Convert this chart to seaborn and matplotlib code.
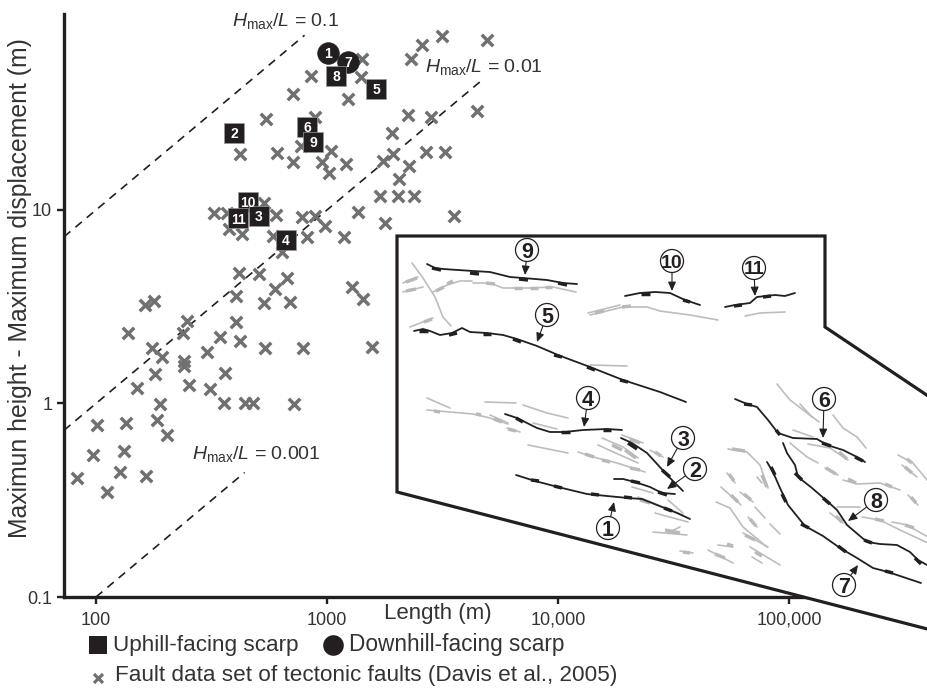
import matplotlib
matplotlib.use("Agg")
import matplotlib.pyplot as plt
import seaborn as sns
import pandas as pd
from matplotlib.patches import Polygon, Circle
from matplotlib.ticker import FixedLocator, FixedFormatter, NullLocator

sns.set_theme(style="ticks")
plt.rcParams["font.family"] = ["Liberation Sans", "DejaVu Sans"]
plt.rcParams["mathtext.fontset"] = "custom"
plt.rcParams["mathtext.rm"] = "Liberation Sans"
plt.rcParams["mathtext.it"] = "Liberation Sans:italic"
plt.rcParams["mathtext.bf"] = "Liberation Sans:bold"

INK = "#231f20"
GREY_X = "#6f7072"
TXT = "#333333"

# --- Fault data set (Davis et al., 2005): length (m), height (m)
fault_length = [178, 163, 138, 248, 238, 404, 404, 344, 420, 302, 175, 193, 240, 240, 180, 362,
                150, 253, 312, 189, 358, 101, 135, 184, 203, 97, 132, 127, 165, 82.7, 112,
                324, 369, 534, 600, 377, 429, 584, 639, 779, 887, 980, 819, 1185, 1362, 1790,
                1696, 2030, 2380, 416, 508, 671, 595, 534, 691, 1283, 1432, 539, 787, 1566,
                442, 478, 720, 852, 713, 1418, 1404, 1233, 544, 887, 420, 607, 772, 713, 1041,
                951, 1209, 1020, 1748, 1931, 2265, 2050, 1912, 2242, 2820, 2683, 3241, 4463,
                2310, 2579, 3146, 4928, 3547]
fault_height = [3.39, 3.23, 2.31, 2.67, 2.31, 3.59, 2.64, 2.21, 2.10, 1.85, 1.94, 1.74, 1.66, 1.56, 1.42, 1.44,
                1.20, 1.25, 1.19, 0.99, 1.01, 0.77, 0.79, 0.82, 0.69, 0.54, 0.57, 0.44, 0.42, 0.41, 0.35,
                9.65, 9.65, 10.9, 9.42, 7.98, 7.52, 7.34, 6.03, 9.20, 9.31, 8.27, 7.25, 7.25, 9.77, 8.57,
                11.8, 11.8, 11.8, 4.73, 4.67, 4.45, 3.91, 3.31, 3.35, 4.00, 3.47, 1.94, 1.94, 1.96,
                1.01, 1.01, 0.99, 49.3, 39.8, 60.3, 48.7, 37.5, 29.5, 30.2, 19.5, 19.7, 21.4, 17.7, 20.2,
                17.7, 17.3, 15.5, 17.9, 19.5, 16.9, 14.5, 25.0, 31.0, 30.2, 19.9, 19.9, 32.5,
                60.3, 71.2, 79.3, 75.6, 9.31]

# --- Scarps of this study
down_ids = ["1", "7"]
down_length = [1010, 1233]
down_height = [64.8, 58.5]
up_ids = ["8", "5", "2", "6", "9", "10", "3", "11", "4"]
up_length = [1094, 1630, 396, 819, 870, 455, 508, 412, 664]
up_height = [49.3, 42.2, 25.0, 26.9, 22.5, 11.0, 9.31, 9.09, 7.0]

# --- Hmax/L reference lines
ratio_values = [0.1, 0.01, 0.001]
ratio_start = [72.7, 72.7, 100]
ratio_end = [800, 4600, 440]
ratio_text = ["0.1", "0.01", "0.001"]

x_ticks = [100, 1000, 10000, 100000]
x_labels = ["100", "1000", "10,000", "100,000"]
y_ticks = [0.1, 1, 10]
y_labels = ["0.1", "1", "10"]

# --- Inset map traces (map coordinates of the sketch)
inset_outline = [(397, 492), (397, 236), (825, 236), (825, 327), (970, 424), (970, 640)]
black_faults = [
    [(427,264),(435,268),(443,269),(473,271),(490,272),(510,277),(523,278),(547,280),(563,283),(577,284)],
    [(414,331),(423,329),(430,331),(440,335),(452,333),(462,328),(470,332),(487,333),(503,335),(517,339),(537,346),(558,355),(590,367),(623,380),(660,392),(686,402)],
    [(625,296),(640,293),(655,292),(670,293),(685,300),(700,305)],
    [(725,307),(735,305),(750,303),(757,297),(775,295),(785,296),(795,293)],
    [(505,414),(517,418),(527,423),(537,428),(550,432),(565,432),(583,430),(607,429),(622,430)],
    [(621,438),(632,443),(647,453),(658,465),(667,475),(683,491)],
    [(614,479),(623,479),(635,482),(650,487),(662,493),(675,494)],
    [(516,475),(535,481),(558,487),(587,494),(607,496),(628,498),(642,499),(657,505),(677,513),(690,519)],
    [(735,399),(747,404),(757,407),(768,420),(778,433),(793,438),(817,439),(827,445),(843,450),(857,457),(865,462)],
    [(783,443),(787,453),(795,465),(798,477),(812,488),(827,501),(837,510),(847,525),(867,542),(880,544),(897,545),(910,552),(918,560),(927,565)],
    [(767,462),(773,472),(780,488),(788,505),(805,526),(823,536),(840,548),(857,558),(873,568),(888,572),(921,583)],
]
black_ticks = [
    (432,268,441,270),(470,273,479,274),(519,279,528,280),(558,283,567,285),
    (419,331,428,331),(449,335,457,333),(483,334,491,334),(513,339,521,342),(554,355,562,357),(587,367,595,370),(620,380,628,382),
    (641,294,650,294),(683,300,690,302),(734,306,742,305),(763,297,771,296),
    (516,418,523,422),(561,432,570,432),(603,430,611,430),
    (628,443,637,449),(662,470,670,477),(631,481,640,483),(658,492,667,495),
    (531,480,539,481),(554,486,562,488),(591,494,599,495),(624,497,632,498),(664,508,672,511),
    (744,404,752,405),(776,430,780,435),(822,443,831,446),(855,457,863,461),
    (795,473,802,480),(823,498,830,504),(864,540,872,543),(915,558,921,564),
    (771,467,775,475),(782,494,786,502),(801,524,809,528),(838,546,846,552),(885,571,893,573),
]
grey_faults = [
    [(412,263),(423,278),(435,297),(443,317),(451,326)],
    [(403,292),(415,289),(423,287)],[(403,283),(418,277)],
    [(433,292),(447,285),(460,281),(472,281)],
    [(473,283),(490,283),(503,288),(530,288),(553,287),(576,292)],
    [(410,327),(433,318)],[(588,313),(620,305)],
    [(590,315),(623,307),(647,307),(660,311),(690,315),(718,320)],
    [(745,316),(760,313),(785,312)],[(590,365),(627,366)],
    [(427,398),(450,408)],[(427,410),(450,412),(473,414),(490,418),(508,424)],
    [(485,402),(516,403)],[(523,405),(547,413),(568,418)],
    [(490,415),(508,423)],[(507,428),(520,432)],[(533,423),(557,429)],[(528,445),(568,453)],
    [(578,452),(597,458),(617,463),(645,472)],[(598,445),(620,455),(638,463)],
    [(602,438),(623,447),(638,458)],[(622,435),(643,443)],[(650,450),(663,457)],
    [(632,487),(653,493)],[(638,497),(663,507),(683,515)],[(668,500),(683,513)],
    [(655,513),(688,522)],[(653,532),(687,535)],[(667,533),(680,527)],[(680,551),(693,553)],
    [(777,384),(790,400),(807,413),(819,422)],[(800,404),(812,417)],
    [(833,415),(843,428),(857,437),(866,448)],[(793,430),(813,437)],
    [(808,444),(830,448),(848,460)],[(790,443),(807,457),(818,463)],[(825,468),(838,475)],
    [(843,480),(857,484),(880,483),(900,490)],[(898,455),(913,463),(927,480)],[(902,465),(917,477)],
    [(908,495),(918,505)],[(837,507),(860,507)],[(830,513),(843,523)],
    [(862,517),(880,520),(900,530),(928,543)],[(892,522),(907,525),(928,537)],
    [(728,449),(747,452),(760,465),(768,488)],[(727,473),(735,483)],[(721,487),(741,505)],
    [(740,492),(753,502)],[(757,477),(762,483)],[(716,502),(730,508),(743,527),(767,547)],
    [(748,517),(757,527)],[(755,507),(765,518)],[(770,524),(780,534)],[(743,533),(768,547)],
    [(718,545),(733,547)],[(708,550),(733,563)],[(750,547),(780,565)],[(752,557),(762,563)],
]
grey_ticks = [
    (406,291,416,289),(406,282,417,278),(436,291,444,287),(447,284,453,281),(486,283,495,284),
    (514,288,522,288),(530,288,538,288),(545,287,552,287),(595,313,604,311),(622,307,631,306),
    (424,322,432,319),(434,411,440,412),(476,414,481,415),(494,419,502,422),(508,429,516,431),
    (585,454,594,457),(602,460,610,462),(630,468,640,470),(612,445,622,450),(625,450,636,458),
    (630,439,640,443),(655,452,661,456),(640,500,650,503),(665,530,680,533),(683,552,690,553),
    (839,452,847,459),(826,468,836,474),(848,479,856,483),(885,484,892,487),(907,459,912,463),
    (905,467,912,473),(911,497,916,503),(836,516,842,522),(875,519,884,521),(905,525,914,528),
    (732,449,745,451),(762,475,767,487),(729,474,734,481),(731,495,738,502),(744,494,751,500),
    (750,519,756,526),(727,544,733,546),(715,554,725,558),(755,552,762,556),(745,535,755,540),
]
callout_ids = ["9", "5", "4", "10", "11", "3", "2", "1", "6", "8", "7"]
callout_x = [527, 547, 588, 672, 754, 683, 695, 608, 824, 876, 844]
callout_y = [250, 315, 398, 261, 268, 438, 469, 528, 399, 500, 585]
target_x = [525, 537, 584, 672, 755, 667, 667, 614, 823, 848, 858]
target_y = [275, 342, 427, 291, 296, 467, 489, 502, 438, 521, 565]

# --- Main log-log chart
fig = plt.figure(figsize=(9.28, 6.88), dpi=100, facecolor="white")
ax = fig.add_axes([64/928, (688-597)/688, 742/928, 583/688])
ax.set_xscale("log")
ax.set_yscale("log")
ax.set_xlim(72.7, 118500)
ax.set_ylim(0.1, 103)
ax.patch.set_alpha(0)

for r, a, b in zip(ratio_values, ratio_start, ratio_end):
    ax.plot([a, b], [r*a, r*b], color=INK, lw=1.2, ls=(0, (5.0, 3.9)), zorder=1)

faults_df = pd.DataFrame({"length": fault_length, "height": fault_height})
sns.scatterplot(data=faults_df, x="length", y="height", marker="x", s=68, color=GREY_X,
                linewidth=2.5, ax=ax, zorder=2, legend=False)
down_df = pd.DataFrame({"length": down_length, "height": down_height})
sns.scatterplot(data=down_df, x="length", y="height", marker="o", s=245, color=INK,
                edgecolor=INK, linewidth=0.4, ax=ax, zorder=3, legend=False)
up_df = pd.DataFrame({"length": up_length, "height": up_height})
sns.scatterplot(data=up_df, x="length", y="height", marker="s", s=192, color=INK,
                edgecolor="#9a9a9a", linewidth=0.5, ax=ax, zorder=4, legend=False)
for i, l, h in zip(down_ids, down_length, down_height):
    ax.text(l, h, i, color="white", fontsize=10, fontweight="bold", ha="center", va="center_baseline", zorder=5)
for i, l, h in zip(up_ids, up_length, up_height):
    ax.text(l, h, i, color="white", fontsize=10, fontweight="bold", ha="center", va="center_baseline", zorder=5)

ax.set_xlabel("")
ax.set_ylabel("")
ax.xaxis.set_major_locator(FixedLocator(x_ticks))
ax.xaxis.set_major_formatter(FixedFormatter(x_labels))
ax.xaxis.set_minor_locator(NullLocator())
ax.yaxis.set_major_locator(FixedLocator(y_ticks))
ax.yaxis.set_major_formatter(FixedFormatter(y_labels))
ax.yaxis.set_minor_locator(NullLocator())
ax.tick_params(axis="both", which="major", length=5, width=1.7, color=INK,
               labelcolor=TXT, labelsize=13, pad=3.5)
ax.tick_params(axis="x", pad=5.5)
sns.despine(ax=ax)
for s in ("left", "bottom"):
    ax.spines[s].set_linewidth(2.4)
    ax.spines[s].set_color(INK)

# --- Overlay in sketch coordinates: inset map, legend, annotations
ov = fig.add_axes([0, 0, 1, 1], zorder=5)
ov.set_xlim(0, 928)
ov.set_ylim(688, 0)
ov.axis("off")
ov.add_patch(Polygon(inset_outline, closed=True, facecolor="white", edgecolor=INK, lw=2.3, zorder=1))
for f in grey_faults:
    ov.plot(*zip(*f), color="#bcbdc0", lw=1.2, zorder=2, solid_capstyle="round")
for x0, y0, x1, y1 in grey_ticks:
    ov.plot([x0, x1], [y0, y1], color="#b8b9bb", lw=2.5, zorder=2, solid_capstyle="butt")
for f in black_faults:
    ov.plot(*zip(*f), color=INK, lw=1.3, zorder=3, solid_capstyle="round")
for x0, y0, x1, y1 in black_ticks:
    ov.plot([x0, x1], [y0, y1], color=INK, lw=2.5, zorder=3, solid_capstyle="butt")
for n, cx, cy, tx, ty in zip(callout_ids, callout_x, callout_y, target_x, target_y):
    ov.add_patch(Circle((cx, cy), 11.5, facecolor="white", edgecolor=INK, lw=0.9, zorder=5))
    ov.text(cx, cy, n, fontsize=15.5 if len(n) == 1 else 14, fontweight="bold", color=INK,
            ha="center", va="center_baseline", zorder=6)
    ov.annotate("", xy=(tx, ty), xytext=(cx, cy), zorder=4,
                arrowprops=dict(arrowstyle="-|>,head_length=0.45,head_width=0.2", color=INK, lw=0.8,
                                shrinkA=8.5, shrinkB=0))

ov.text(438, 613, "Length (m)", fontsize=16, color=TXT, ha="center", va="center")
ov.text(20, 288, "Maximun height - Maximum displacement (m)", fontsize=17.8, color=TXT,
        rotation=90, ha="center", va="center")

for lab, px, py in [(ratio_text[0], 232, 21), (ratio_text[1], 425, 67), (ratio_text[2], 192, 454)]:
    ov.text(px, py, r"$\mathit{H}_{\mathrm{max}}/\mathit{L}$ = " + lab, fontsize=14, color=TXT,
            ha="left", va="center")

ov.scatter([98], [645], marker="s", s=175, color=INK, linewidths=0, zorder=3)
ov.scatter([333], [645], marker="o", s=220, color=INK, linewidths=0, zorder=3)
ov.scatter([98], [678], marker="x", s=42, color=GREY_X, linewidths=2.3, zorder=3)
ov.text(113, 645, "Uphill-facing scarp", fontsize=16.2, color=TXT, ha="left", va="center")
ov.text(349, 645, "Downhill-facing scarp", fontsize=16.3, color=TXT, ha="left", va="center")
ov.text(115, 676, "Fault data set of tectonic faults (Davis et al., 2005)", fontsize=16.2, color=TXT,
        ha="left", va="center")

fig.savefig("out.png", dpi=100, facecolor="white")
